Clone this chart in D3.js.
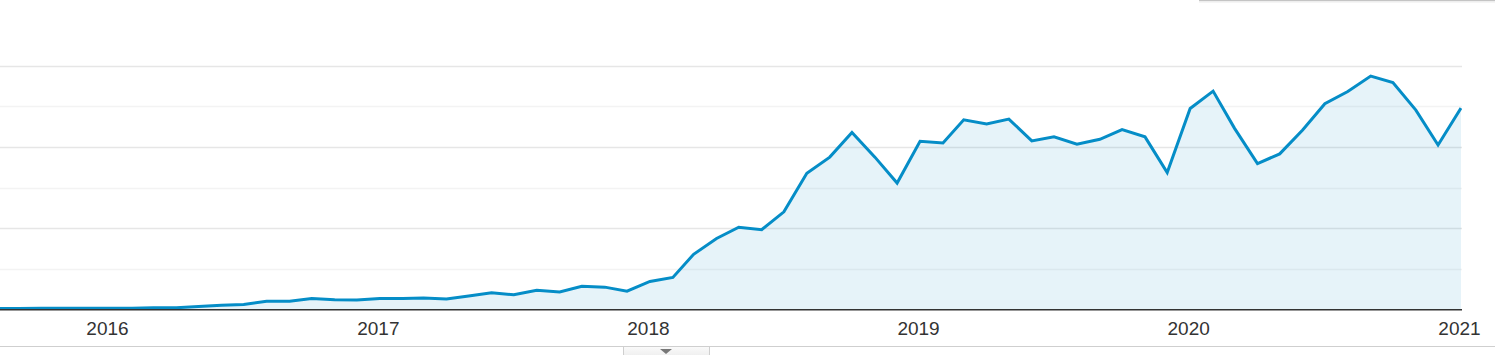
<!DOCTYPE html>
<html>
<head>
<meta charset="utf-8">
<script src="https://cdn.jsdelivr.net/npm/d3@7"></script>
<style>
  html, body { margin: 0; padding: 0; background: #fff; overflow: hidden; }
  svg { display: block; }
</style>
</head>
<body>
<script>
// Monthly series, Aug 2015 .. Jan 2021
const startMonth = "2015-08";
const values = [
  1, 1, 2, 2, 2, 2, 2, 3, 3, 6, 9, 11,
  19, 19, 26, 23, 22, 26, 26, 27, 25, 32, 40, 35,
  46, 42, 56, 54, 44, 68, 78, 135, 174, 202, 196, 240,
  335, 375, 436, 375, 311, 414, 410, 467, 457, 469, 415, 425,
  407, 419, 443, 425, 337, 495, 538, 446, 359, 383, 442, 507,
  537, 575, 559, 491, 405, 496
];
const yTicks = [100, 200, 300, 400, 500, 600];
const yearLabels = ["2016", "2017", "2018", "2019", "2020", "2021"];

const W = 1502, H = 355;
const plotRight = 1462, baseY = 309, topY = 66;

const parseMonth = d3.timeParse("%Y-%m");
const first = parseMonth(startMonth);
const data = values.map((v, i) => ({ date: d3.timeMonth.offset(first, i), value: v }));

const svg = d3.select("body").append("svg")
  .attr("width", W)
  .attr("height", H);

const x = d3.scaleTime()
  .domain([new Date(2016, 0, 1), new Date(2021, 0, 1)])
  .range([109, 1461]);

const y = d3.scaleLinear()
  .domain([0, 600])
  .range([baseY, topY]);

svg.append("defs").append("clipPath").attr("id", "plot")
  .append("rect").attr("x", 0).attr("y", 0).attr("width", plotRight).attr("height", H);

// gridlines (alternating strength)
svg.append("g")
  .selectAll("line")
  .data(yTicks)
  .join("line")
  .attr("x1", 0).attr("x2", plotRight)
  .attr("y1", d => Math.round(y(d)) + 0.5)
  .attr("y2", d => Math.round(y(d)) + 0.5)
  .attr("stroke", (d, i) => i % 2 === 0 ? "#f3f3f3" : "#e6e6e6")
  .attr("stroke-width", 1.5);

const plot = svg.append("g").attr("clip-path", "url(#plot)");

plot.append("path")
  .datum(data)
  .attr("fill", "#058dc7")
  .attr("fill-opacity", 0.1)
  .attr("d", d3.area().x(d => x(d.date)).y0(baseY).y1(d => y(d.value)));

plot.append("path")
  .datum(data)
  .attr("fill", "none")
  .attr("stroke", "#058dc7")
  .attr("stroke-width", 3)
  .attr("stroke-linejoin", "miter")
  .attr("d", d3.line().x(d => x(d.date)).y(d => y(d.value)));

// baseline
svg.append("line")
  .attr("x1", 0).attr("x2", plotRight)
  .attr("y1", baseY + 0.75).attr("y2", baseY + 0.75)
  .attr("stroke", "#333").attr("stroke-width", 1.5);

// year labels
const xAxis = svg.append("g")
  .attr("transform", `translate(-2,${baseY})`)
  .call(d3.axisBottom(x)
    .tickValues(yearLabels.map(s => d3.timeParse("%Y")(s)))
    .tickFormat(d3.timeFormat("%Y"))
    .tickSize(0));
xAxis.select(".domain").remove();
xAxis.selectAll("text")
  .attr("y", 26)
  .attr("dy", null)
  .attr("fill", "#333")
  .style("font-family", "'Liberation Sans', Arial, sans-serif")
  .style("font-size", "19px");

// bottom divider and tab
svg.append("line")
  .attr("x1", 0).attr("x2", 1495)
  .attr("y1", 346.5).attr("y2", 346.5)
  .attr("stroke", "#cfcfcf").attr("stroke-width", 1);

const grad = svg.select("defs").append("linearGradient")
  .attr("id", "tab").attr("x1", 0).attr("x2", 0).attr("y1", 0).attr("y2", 1);
grad.append("stop").attr("offset", "0%").attr("stop-color", "#fafafa");
grad.append("stop").attr("offset", "100%").attr("stop-color", "#ececec");

svg.append("rect")
  .attr("x", 623.5).attr("y", 346.5)
  .attr("width", 86).attr("height", 12)
  .attr("fill", "url(#tab)")
  .attr("stroke", "#cfcfcf");

svg.append("path")
  .attr("d", "M660,349 L672,349 L666,354 Z")
  .attr("fill", "#777");

// edge of panel at top right
svg.append("line")
  .attr("x1", 1199).attr("x2", 1495)
  .attr("y1", 0.5).attr("y2", 0.5)
  .attr("stroke", "#c4c4c4").attr("stroke-width", 1.5);
svg.append("line")
  .attr("x1", 1199).attr("x2", 1495)
  .attr("y1", 2).attr("y2", 2)
  .attr("stroke", "#ececec").attr("stroke-width", 1);
</script>
</body>
</html>
